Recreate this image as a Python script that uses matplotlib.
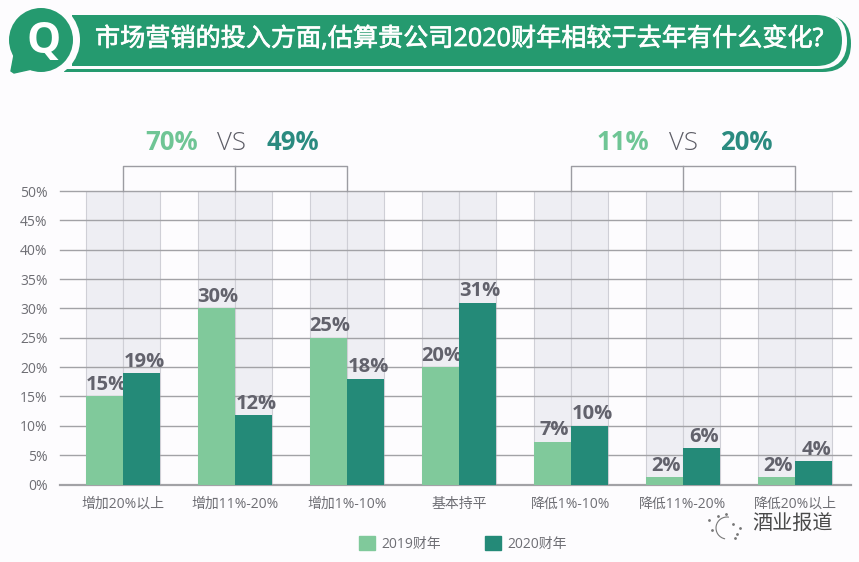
import numpy as np
import matplotlib
matplotlib.use("Agg")
import matplotlib.pyplot as plt
import matplotlib.patheffects as pe
from matplotlib.patches import FancyBboxPatch, Circle, Polygon, Patch, Arc, Rectangle

plt.rcParams['font.family'] = ['Open Sans', 'Noto Sans CJK SC', 'DejaVu Sans']

categories = ['增加20%以上', '增加11%-20%', '增加1%-10%', '基本持平', '降低1%-10%', '降低11%-20%', '降低20%以上']
bars_2019 = [15, 30, 25, 20, 7.3, 1.2, 1.2]  # heights as drawn, labels say otherwise for the small ones
bars_2020 = [19, 11.8, 18, 31, 10, 6.2, 4]
labels_2019 = ['15%', '30%', '25%', '20%', '7%', '2%', '2%']
labels_2020 = ['19%', '12%', '18%', '31%', '10%', '6%', '4%']
y_ticks = [0, 5, 10, 15, 20, 25, 30, 35, 40, 45, 50]
series_names = ['2019财年', '2020财年']
title = '市场营销的投入方面,估算贵公司2020财年相较于去年有什么变化?'

bg = '#fdfcfe'
banner = '#259a6f'
light = '#80c99b'
dark = '#248a78'
txt = '#62626c'
W, H = 859, 562

fig = plt.figure(figsize=(W / 100, H / 100), dpi=100, facecolor=bg)

# chart area, lined up with the picture in pixels
ax = fig.add_axes([60 / W, 1 - 484.5 / H, 791 / W, 293.5 / H])
ax.set_facecolor('none')
x = np.arange(len(categories))
w = 0.326
ax.set_xlim(-0.5625, 6.5)
ax.set_ylim(0, 50)

ax.bar(x - w / 2, [50] * 7, w, color='#eeeef3', edgecolor='#cfcfd6', linewidth=0.8, zorder=1)
ax.bar(x + w / 2, [50] * 7, w, color='#eeeef3', edgecolor='#cfcfd6', linewidth=0.8, zorder=1)
for t in y_ticks:
    ax.axhline(t, color='#a2a2a6', linewidth=1.6 if t == 0 else 1, zorder=2, clip_on=False)
b1 = ax.bar(x - w / 2, bars_2019, w, color=light, zorder=3)
b2 = ax.bar(x + w / 2, bars_2020, w, color=dark, zorder=5)
lab1 = ax.bar_label(b1, labels=labels_2019, padding=1, fontsize=14.5, fontweight='bold', color=txt, zorder=4)
lab2 = ax.bar_label(b2, labels=labels_2020, padding=1, fontsize=14.5, fontweight='bold', color=txt, zorder=6)
# labels sit a little right of the bar centres in the picture
for a in lab1:
    a.xyann = (a.xyann[0] + 1, a.xyann[1])
for a in lab2:
    a.xyann = (a.xyann[0] + 2, a.xyann[1])

ax.set_xticks(x, categories)
ax.set_yticks(y_ticks, [f'{t}%' for t in y_ticks])
ax.tick_params(axis='both', length=0, labelsize=10, labelcolor='#6e6e74')
ax.tick_params(axis='x', pad=9)
ax.tick_params(axis='y', pad=9)
for s in ax.spines.values():
    s.set_visible(False)

# brackets over the groups
for a, b in [(0, 2), (4, 6)]:
    ax.plot([a, a, b, b], [50, 54.2, 54.2, 50], color='#9c9ca2', lw=1, clip_on=False, zorder=2)
    ax.plot([(a + b) / 2] * 2, [50, 54.2], color='#9c9ca2', lw=1, clip_on=False, zorder=2)

ax.legend(handles=[Patch(color=light, label=series_names[0]), Patch(color=dark, label=series_names[1])],
          ncol=2, frameon=False, loc='center', bbox_to_anchor=(463 / W, 1 - 544 / H),
          bbox_transform=fig.transFigure, fontsize=10, labelcolor='#6e6e74',
          handlelength=1.15, handleheight=1.15, handletextpad=0.45, columnspacing=3.2, borderpad=0)

# everything outside the plot, in pixel coordinates
ov = fig.add_axes([0, 0, 1, 1])
ov.set_xlim(0, W)
ov.set_ylim(H, 0)
ov.axis('off')


def pill(x0, y0, x1, y1, color):
    r = (y1 - y0) / 2
    ov.add_patch(FancyBboxPatch((x0 + r, y0 + r), x1 - x0 - 2 * r, 0,
                                boxstyle=f'round,pad={r},rounding_size={r}',
                                fc=color, ec='none', mutation_aspect=1))
    # left end is square, only the right end is round
    ov.add_patch(Rectangle((x0, y0), r, y1 - y0, fc=color, ec='none'))


pill(64, 15, 851, 72, banner)
pill(64, 13, 847, 69, bg)
pill(72, 15, 842, 66, banner)

ov.add_patch(Circle((41, 40), 39, fc=bg, ec='none', zorder=3))
ov.add_patch(Circle((41, 40), 32, fc=banner, ec='none', zorder=4))
ov.add_patch(Polygon([(14, 55), (11, 71), (14, 73), (32, 69)], closed=True, fc=banner, ec=banner, lw=1, zorder=4))
ov.text(44, 42, 'Q', color='white', fontsize=31, fontweight='bold', ha='center', va='center', zorder=5)

ov.text(95, 39.5, title, color='white', fontsize=18.1, ha='left', va='center',
        path_effects=[pe.withStroke(linewidth=0.5, foreground='white')])

for cx, s, c, fw in [(172, '70%', '#6fc595', 'bold'), (231, 'VS', '#5d5d66', 'light'), (293, '49%', '#2b8b80', 'bold'),
                     (623, '11%', '#6fc595', 'bold'), (683, 'VS', '#5d5d66', 'light'), (746, '20%', '#2b8b80', 'bold')]:
    ov.text(cx, 143, s, color=c, fontsize=18.5, fontweight=fw, ha='center', va='center')

# watermark
ov.text(793, 524, '酒业报道', color='#4a4a4a', fontsize=14.5, ha='center', va='center')
ov.add_patch(Arc((727, 528), 22, 22, theta1=100, theta2=280, color='#777777', lw=0.8))
ov.plot([709, 712, 718, 726, 733, 737, 740, 735], [520, 530, 516, 514, 524, 534, 528, 538],
        ls='none', marker='.', ms=2, color='#777777')

fig.savefig('out.png', dpi=100, facecolor=bg)
